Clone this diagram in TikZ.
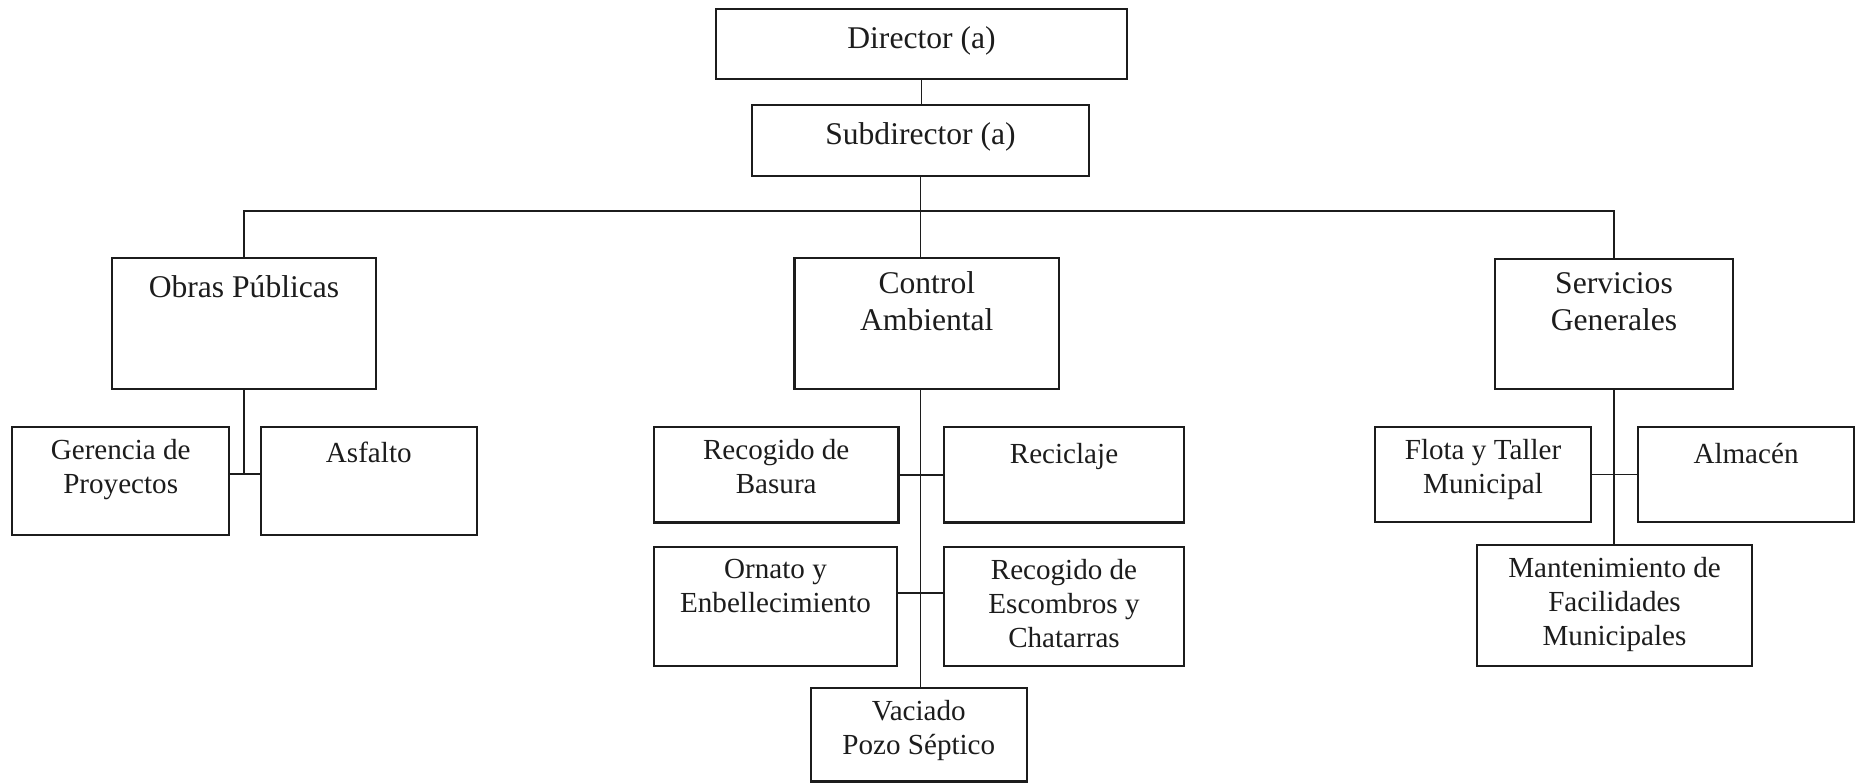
\documentclass[tikz,border=0pt]{standalone}
\usepackage{fontspec}
\setmainfont{Liberation Serif}
\definecolor{ink}{HTML}{1C1C1C}
\begin{document}
\begin{tikzpicture}[x=1pt,y=-1pt,
  orgbox/.style={draw=ink, line width=2.2pt, inner sep=0pt},
  biglabel/.style={anchor=north, align=center, inner sep=0pt, text=ink,
    font=\fontsize{31.6}{37.3}\selectfont, yshift=-14.4pt,
    execute at begin node=\strut},
  smalllabel/.style={anchor=north, align=center, inner sep=0pt, text=ink,
    font=\fontsize{29.1}{34}\selectfont, yshift=-13.2pt,
    execute at begin node=\strut},
  link/.style={draw=ink, line width=1.9pt}]
\useasboundingbox (0,0) rectangle (1863,783);

% top of the chart
\node[orgbox, minimum width=411pt, minimum height=70pt]   (dir)  at (921.5,44.3) {};
\node[orgbox, minimum width=337pt, minimum height=70.7pt] (sub)  at (920.5,140.3) {};
\node[biglabel] (dirT) at (dir.north) {Director (a)};
\node[biglabel] (subT) at (sub.north) {Subdirector (a)};

% departments
\node[orgbox, minimum width=264pt, minimum height=131pt]  (obr)  at (244,323.8) {};
\node[orgbox, minimum width=264.5pt, minimum height=131.6pt] (ctl) at (926.8,323.5) {};
\node[orgbox, minimum width=238pt, minimum height=130.3pt] (srv) at (1614,324.2) {};
\node[biglabel] (obrT) at (obr.north) {Obras Públicas};
\node[biglabel] (ctlT) at (ctl.north) {Control\\Ambiental};
\node[biglabel] (srvT) at (srv.north) {Servicios\\Generales};

% Obras Públicas units
\node[orgbox, minimum width=216.7pt, minimum height=108.3pt] (ger) at (120.7,480.9) {};
\node[orgbox, minimum width=215.7pt, minimum height=108.3pt] (asf) at (368.8,480.9) {};
\node[smalllabel] (gerT) at (ger.north) {Gerencia de\\Proyectos};
\node[smalllabel] (asfT) at (asf.north) {Asfalto};

% Control Ambiental units
\node[orgbox, minimum width=244.5pt, minimum height=95.5pt]  (bas) at (776.2,474.7) {};
\node[orgbox, minimum width=240pt, minimum height=95.5pt]    (rec) at (1064,474.7) {};
\node[orgbox, minimum width=243pt, minimum height=119.3pt]   (orn) at (775.5,606.3) {};
\node[orgbox, minimum width=240pt, minimum height=119.3pt]   (esc) at (1064,606.3) {};
\node[orgbox, minimum width=216.3pt, minimum height=93.2pt]  (vac) at (918.8,734.9) {};
\node[smalllabel] (basT) at (bas.north) {Recogido de\\Basura};
\node[smalllabel] (recT) at (rec.north) {Reciclaje};
\node[smalllabel] (ornT) at (orn.north) {Ornato y\\Enbellecimiento};
\node[smalllabel] (escT) at (esc.north) {Recogido de\\Escombros y\\Chatarras};
\node[smalllabel] (vacT) at (vac.north) {Vaciado\\Pozo Séptico};

% Servicios Generales units
\node[orgbox, minimum width=216pt, minimum height=95pt]  (flo) at (1483,474.5) {};
\node[orgbox, minimum width=216pt, minimum height=95pt]  (alm) at (1746,474.5) {};
\node[orgbox, minimum width=275pt, minimum height=121pt] (man) at (1614.5,605.5) {};
\node[smalllabel] (floT) at (flo.north) {Flota y Taller\\Municipal};
\node[smalllabel] (almT) at (alm.north) {Almacén};
\node[smalllabel] (manT) at (man.north) {Mantenimiento de\\Facilidades\\Municipales};

% junction points of the connectors
\coordinate (bus) at (920.5,210.7);
\coordinate (oj)  at (obr.south |- 0,474);
\coordinate (cj)  at (sub.south |- 0,593.3);

% connectors
\draw[link] (dir.south) -- (dir.south |- sub.north);
\draw[link] (sub.south) -- (sub.south |- ctl.north);
\draw[link] (obr.north) |- (bus) -| (srv.north);

\draw[link] (obr.south) -- (oj);
\draw[link] (ger.east |- oj) -- (asf.west |- oj);

\draw[link] (sub.south |- ctl.south) -- (sub.south |- vac.north);
\draw[link] (bas.east) -- (rec.west);
\draw[link] (orn.east |- cj) -- (esc.west |- cj);

\draw[link] (srv.south) -- (srv.south |- man.north);
\draw[link] (flo.east) -- (alm.west);
\end{tikzpicture}
\end{document}
